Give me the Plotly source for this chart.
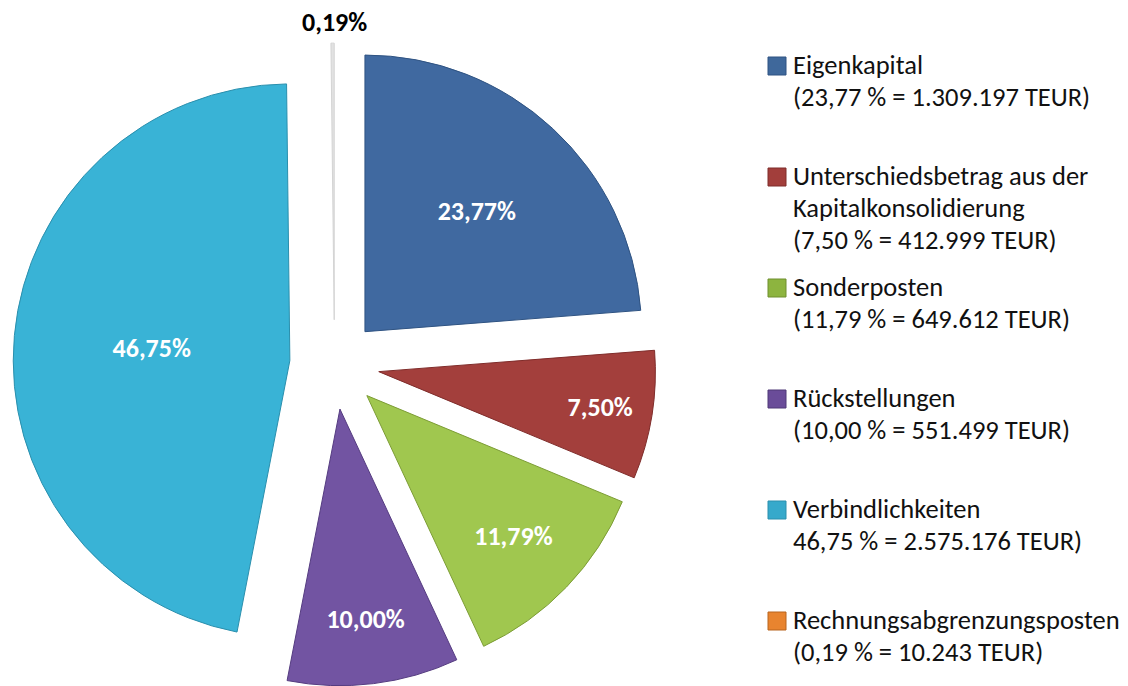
import plotly.graph_objects as go

# ---------------- data ----------------
categories = ["Eigenkapital", "Unterschiedsbetrag aus der Kapitalkonsolidierung",
              "Sonderposten", "Rückstellungen", "Verbindlichkeiten",
              "Rechnungsabgrenzungsposten"]
percent_values = [23.77, 7.50, 11.79, 10.00, 46.75, 0.19]
legend_labels = [
    ["Eigenkapital", "(23,77 % = 1.309.197 TEUR)"],
    ["Unterschiedsbetrag aus der", "Kapitalkonsolidierung", "(7,50 % = 412.999 TEUR)"],
    ["Sonderposten", "(11,79 % = 649.612 TEUR)"],
    ["Rückstellungen", "(10,00 % = 551.499 TEUR)"],
    ["Verbindlichkeiten", "46,75 % = 2.575.176 TEUR)"],
    ["Rechnungsabgrenzungsposten", "(0,19 % = 10.243 TEUR)"],
]

# ---------------- style ----------------
W, H = 1128, 686
OFF = 0  # body margin removed via post_script
FONT = "Calibri, Carlito, Lato, sans-serif"
slice_colors = ["#4069A0", "#A33F3C", "#A0C74F", "#7254A2", "#39B3D6", "#E2E2E2"]
border_colors = ["#2F5382", "#7F2C2A", "#7C9C35", "#553C80", "#2A8FAD", "#D4D4D4"]
legend_colors = ["#3F689B", "#A23E3B", "#8DB43F", "#6A4C99", "#36A9CB", "#E8842F"]
legend_border = ["#2F5382", "#7F2C2A", "#6E8F2F", "#4F3877", "#2A8FAD", "#B8641E"]

pct_text = [f"{v:.2f}".replace(".", ",") + "%" for v in percent_values]

# pie geometry in screen px
cx_s, cy_s, radius, pull = 334.5, 365.5, 277.0, 0.162
box = 2 * radius * (1 + pull) + 1
cx_f, cy_f = cx_s - OFF, cy_s - OFF

fig = go.Figure()
fig.add_trace(go.Pie(
    labels=categories,
    values=percent_values,
    sort=False,
    direction="clockwise",
    rotation=0,
    pull=[pull] * len(percent_values),
    text=pct_text,
    texttemplate="%{text}",
    textposition=["inside"] * 5 + ["none"],
    insidetextorientation="horizontal",
    textfont=dict(family=FONT, size=26, color="white", weight="bold"),
    marker=dict(colors=slice_colors, line=dict(color=border_colors, width=1)),
    domain=dict(x=[(cx_f - box / 2) / W, (cx_f + box / 2) / W],
                y=[max(0, 1 - (cy_f + box / 2) / H), 1 - (cy_f - box / 2) / H]),
    showlegend=False,
    hoverinfo="label+percent",
))

def px_x(x):
    return (x - OFF) / W

def px_y(y):
    return 1 - (y - OFF) / H

annotations = [dict(
    x=px_x(cx_s), y=px_y(22), xref="paper", yref="paper",
    xanchor="center", yanchor="middle", showarrow=False, text=pct_text[5],
    font=dict(family=FONT, size=26, color="black", weight="bold"),
)]
shapes = []
first_line_y = 65
pitch = 111
line_h = 32
for i, lines in enumerate(legend_labels):
    y0 = first_line_y + pitch * i
    for j, line in enumerate(lines):
        annotations.append(dict(
            x=px_x(791), y=px_y(y0 + j * line_h), xref="paper", yref="paper",
            xanchor="left", yanchor="middle", showarrow=False, text=line,
            font=dict(family=FONT, size=26.5, color="#111111"),
        ))
    shapes.append(dict(
        type="rect", xref="paper", yref="paper",
        x0=px_x(768), x1=px_x(786), y0=px_y(y0 + 10), y1=px_y(y0 - 8),
        fillcolor=legend_colors[i], line=dict(color=legend_border[i], width=1),
    ))

fig.update_layout(
    width=W, height=H,
    margin=dict(l=0, r=0, t=0, b=0),
    paper_bgcolor="white", plot_bgcolor="white",
    annotations=annotations, shapes=shapes,
    font=dict(family=FONT),
)

fig.write_html("out.html", config={"displayModeBar": False},
               post_script="document.body.style.margin='0px';")
